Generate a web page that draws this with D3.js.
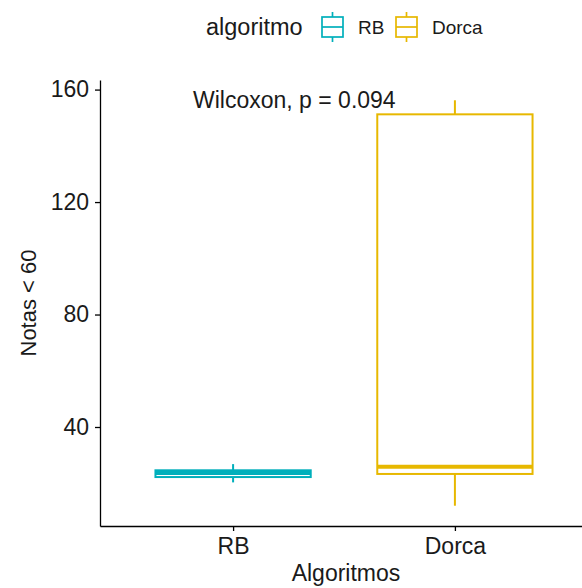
<!DOCTYPE html>
<html><head><meta charset="utf-8">
<script src="https://cdn.jsdelivr.net/npm/d3@7"></script>
<style>body{margin:0;background:#fff}svg{display:block}text{font-family:"Liberation Sans",Arial,sans-serif;fill:#1a1a1a}</style>
</head><body>
<script>
const categories = ["RB", "Dorca"];
const colors = ["#00AFBB", "#E7B800"];
const lowerWhisker = [20.3, 12.0];
const q1 = [22.2, 23.3];
const median = [23.6, 25.9];
const q3 = [24.6, 151.2];
const upperWhisker = [26.8, 156.2];
const yTicks = [40, 80, 120, 160];
const yTitle = "Notas < 60";
const xTitle = "Algoritmos";
const legendTitle = "algoritmo";
const statLabel = "Wilcoxon, p = 0.094";

const W = 582, H = 588;
const svg = d3.select("body").append("svg").attr("width", W).attr("height", H);
const mLeft = 100, mBottom = 526, mTop = 80, mRight = 588;
const FONT = "Liberation Sans, Arial, sans-serif";

const lo = d3.min(lowerWhisker), hi = d3.max(upperWhisker), pad = (hi - lo) * 0.05;
const y = d3.scaleLinear().domain([lo - pad, hi + pad]).range([mBottom, mTop]);
const x = d3.scalePoint().domain(categories).range([mLeft, mRight]).padding(0.6);
const step = x.step();
const bw = step * 0.7;

// boxes
categories.forEach((c, i) => {
  const g = svg.append("g").attr("stroke", colors[i]).attr("fill", "none");
  const cx = x(c);
  g.append("line").attr("x1", cx).attr("x2", cx).attr("y1", y(q3[i])).attr("y2", y(upperWhisker[i])).attr("stroke-width", 2);
  g.append("line").attr("x1", cx).attr("x2", cx).attr("y1", y(q1[i])).attr("y2", y(lowerWhisker[i])).attr("stroke-width", 2);
  g.append("rect").attr("x", cx - bw / 2).attr("width", bw)
    .attr("y", y(q3[i])).attr("height", y(q1[i]) - y(q3[i])).attr("stroke-width", 2).attr("fill", "#fff");
  g.append("line").attr("x1", cx - bw / 2).attr("x2", cx + bw / 2).attr("y1", y(median[i])).attr("y2", y(median[i])).attr("stroke-width", 4);
});

// axes
const yAxis = svg.append("g").attr("transform", `translate(${mLeft},0)`)
  .call(d3.axisLeft(y).tickValues(yTicks).tickSize(5).tickPadding(6).tickSizeOuter(0));
yAxis.select(".domain").attr("stroke", "#000").attr("stroke-width", 1.3);
yAxis.selectAll(".tick line").attr("stroke", "#000").attr("stroke-width", 1.3);
yAxis.selectAll(".tick text").attr("font-size", 23).attr("fill", "#1a1a1a").attr("font-family", FONT);

const xAxis = svg.append("g").attr("transform", `translate(0,${mBottom})`)
  .call(d3.axisBottom(x).tickSize(5).tickPadding(7).tickSizeOuter(0));
xAxis.select(".domain").attr("stroke", "#000").attr("stroke-width", 1.3);
xAxis.selectAll(".tick line").attr("stroke", "#000").attr("stroke-width", 1.3);
xAxis.selectAll(".tick text").attr("font-size", 23).attr("fill", "#1a1a1a").attr("font-family", FONT);

// titles
svg.append("text").attr("x", 346).attr("y", 581).attr("text-anchor", "middle").attr("font-size", 23).text(xTitle);
svg.append("text").attr("transform", `translate(36,${(mTop + mBottom) / 2}) rotate(-90)`).attr("text-anchor", "middle").attr("font-size", 22).text(yTitle);

// stat label
svg.append("text").attr("x", 193).attr("y", 108).attr("font-size", 23).text(statLabel);

// legend
const lg = svg.append("g");
lg.append("text").attr("x", 206).attr("y", 35).attr("font-size", 23.5).text(legendTitle);
const keyX = [322, 396], labX = [358, 432];
categories.forEach((c, i) => {
  const k = lg.append("g").attr("stroke", colors[i]).attr("fill", "none").attr("stroke-width", 1.7);
  const kx = keyX[i], kw = 21, cx = kx + kw / 2;
  k.append("line").attr("x1", cx).attr("x2", cx).attr("y1", 12).attr("y2", 42);
  k.append("rect").attr("x", kx).attr("y", 17).attr("width", kw).attr("height", 20).attr("fill", "#fff");
  k.append("line").attr("x1", kx).attr("x2", kx + kw).attr("y1", 27).attr("y2", 27);
  lg.append("text").attr("x", labX[i]).attr("y", 34).attr("font-size", 19).text(c);
});
</script>
</body></html>
